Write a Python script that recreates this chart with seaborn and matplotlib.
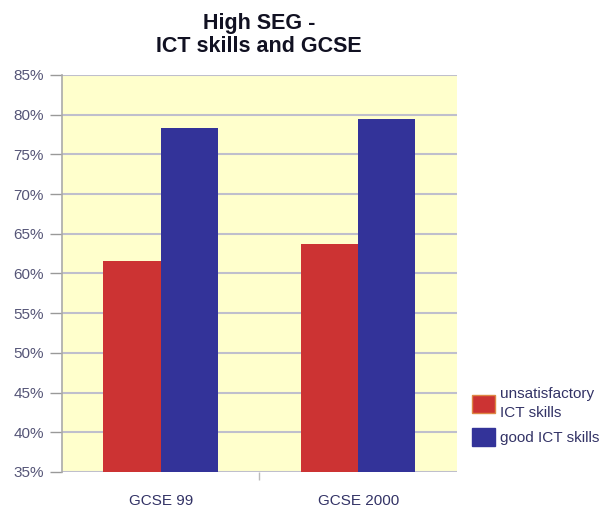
import matplotlib
matplotlib.use("Agg")
import matplotlib.pyplot as plt
import seaborn as sns
import pandas as pd
from matplotlib.patches import Patch

categories = ["GCSE 99", "GCSE 2000"]
series = ["unsatisfactory\nICT skills", "good ICT skills"]
unsatisfactory = [61.6, 63.7]
good = [78.3, 79.4]
yticks = [35, 40, 45, 50, 55, 60, 65, 70, 75, 80, 85]

df = pd.DataFrame({
    "cat": categories * 2,
    "series": [series[0]] * 2 + [series[1]] * 2,
    "val": unsatisfactory + good,
})

sns.set_theme(style="white")
plt.rcParams['font.family'] = ['Liberation Sans', 'DejaVu Sans']

fig = plt.figure(figsize=(6.03, 5.08), dpi=100)
ax = fig.add_axes([0.1028, 0.0709, 0.655, 0.7815])
ax.set_facecolor("#FFFFCC")

colors = ["#CC3333", "#333399"]
sns.barplot(data=df, x="cat", y="val", hue="series", palette=colors,
            width=0.58, ax=ax, saturation=1, legend=False, zorder=3,
            linewidth=0, edgecolor="none")

ax.set_ylim(35, 85)
ax.set_xlim(-0.5, 1.5)
ax.set_yticks(yticks)
ax.set_yticklabels([f"{t}%" for t in yticks], color="#555577", fontsize=11)
ax.tick_params(axis="y", length=9, width=1, color="#999999", pad=4, left=True)
ax.set_xticks([0, 1])
ax.set_xticklabels(categories)
ax.tick_params(axis="x", length=0, pad=16, labelsize=11, labelcolor="#333366")
ax.set_xticks([0.5], minor=True)
ax.tick_params(axis="x", which="minor", length=6, width=1, color="#BBBBBB", bottom=True)
ax.set_xlabel("")
ax.set_ylabel("")
ax.grid(axis="y", color="#BFBFCC", linewidth=1.5, zorder=1)
ax.set_axisbelow(True)
for s in ["top", "right", "bottom"]:
    ax.spines[s].set_visible(False)
ax.spines["left"].set_color("#AAAAAA")
ax.spines["left"].set_linewidth(1.2)

fig.text(0.43, 0.975, "High SEG -\nICT skills and GCSE", ha="center", va="top",
         fontsize=15.5, fontweight="bold", color="#111122", linespacing=1.15)

handles = [Patch(facecolor=colors[0], edgecolor="#DD8844", linewidth=1),
           Patch(facecolor=colors[1], edgecolor="#333399", linewidth=1)]
leg = fig.legend(handles, series, loc="center left", bbox_to_anchor=(0.76, 0.18),
                 frameon=False, fontsize=11, labelcolor="#333366",
                 handlelength=1.5, handleheight=1.5, handletextpad=0.35, labelspacing=0.5)
for t in leg.get_texts():
    t.set_linespacing(1.45)

fig.savefig("out.png", dpi=100)
